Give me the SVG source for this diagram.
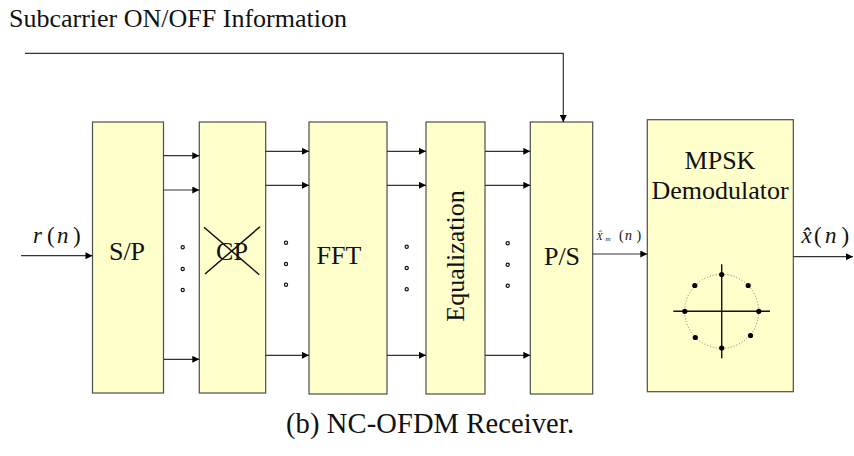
<svg xmlns="http://www.w3.org/2000/svg" width="854" height="456" viewBox="0 0 854 456">
<style>
.box{fill:#FFFFCC;stroke:#4d4d4d;stroke-width:1.2}
.lbl{font-family:'Liberation Serif','Times New Roman',Tinos,'DejaVu Serif',serif;font-size:26px;fill:#111}
.math{font-family:'Liberation Serif','Times New Roman',Tinos,'DejaVu Serif',serif;fill:#111}
.wire{fill:none;stroke:#333;stroke-width:1.2}
.dot{fill:#fff;stroke:#111;stroke-width:1.2}
.ax{stroke:#111;stroke-width:1.4}
.pt{fill:#000}
</style>
<defs>
<marker id="ah" viewBox="0 0 10 10" refX="10" refY="5" markerWidth="8" markerHeight="7" markerUnits="userSpaceOnUse" orient="auto">
<path d="M0,0 L10,5 L0,10 z" fill="#000"/>
</marker>
</defs>

<text class="lbl" x="9" y="27" font-size="26.6">Subcarrier ON/OFF Information</text>

<g id="sp">
<rect class="box" x="92.5" y="122" width="71" height="271"/>
<text class="lbl" x="127" y="260" text-anchor="middle">S/P</text>
</g>
<g id="cp">
<rect class="box" x="199.3" y="122" width="66.4" height="271"/>
<text class="lbl" x="232" y="260" text-anchor="middle">CP</text>
<line x1="205" y1="274" x2="260" y2="226.7" stroke="#111" stroke-width="1.5"/>
<line x1="204" y1="227.3" x2="259.3" y2="274.7" stroke="#111" stroke-width="1.5"/>
</g>
<g id="fft">
<rect class="box" x="309" y="122" width="78" height="272"/>
<text class="lbl" x="316.5" y="264">FFT</text>
</g>
<g id="eq">
<rect class="box" x="426" y="122" width="59" height="272"/>
<text class="lbl" x="0" y="0" text-anchor="middle" transform="translate(464,256) rotate(-90)">Equalization</text>
</g>
<g id="ps">
<rect class="box" x="530.3" y="122" width="62.4" height="272"/>
<text class="lbl" x="562" y="265" text-anchor="middle">P/S</text>
</g>
<g id="mpsk">
<rect class="box" x="647.3" y="119.7" width="146" height="272"/>
<text class="lbl" x="720" y="169" text-anchor="middle">MPSK</text>
<text class="lbl" x="720" y="199" text-anchor="middle">Demodulator</text>
<circle cx="721.7" cy="311.3" r="37" fill="none" stroke="#777" stroke-width="1" stroke-dasharray="1 2"/>
<line class="ax" x1="673.3" y1="311.3" x2="770" y2="311.3"/>
<line class="ax" x1="721.7" y1="264.3" x2="721.7" y2="358.3"/>
<circle class="pt" cx="721.7" cy="274.5" r="2.6"/>
<circle class="pt" cx="721.7" cy="348" r="2.6"/>
<circle class="pt" cx="684.8" cy="311.3" r="2.6"/>
<circle class="pt" cx="758.8" cy="311.3" r="2.6"/>
<circle class="pt" cx="694.8" cy="285.5" r="2.6"/>
<circle class="pt" cx="748.2" cy="285.5" r="2.6"/>
<circle class="pt" cx="695.3" cy="337.5" r="2.6"/>
<circle class="pt" cx="750.5" cy="335.5" r="2.6"/>
</g>

<g id="connectors">
<polyline class="wire" points="25,53.3 563.3,53.3 563.3,122" marker-end="url(#ah)"/>
<line class="wire" x1="21" y1="255.7" x2="92.5" y2="255.7" marker-end="url(#ah)"/>
<line class="wire" x1="163.5" y1="155.7" x2="199.3" y2="155.7" marker-end="url(#ah)"/>
<line class="wire" x1="163.5" y1="190" x2="199.3" y2="190" marker-end="url(#ah)"/>
<line class="wire" x1="163.5" y1="359.3" x2="199.3" y2="359.3" marker-end="url(#ah)"/>
<line class="wire" x1="265.7" y1="151.3" x2="309" y2="151.3" marker-end="url(#ah)"/>
<line class="wire" x1="265.7" y1="185.3" x2="309" y2="185.3" marker-end="url(#ah)"/>
<line class="wire" x1="265.7" y1="355.3" x2="309" y2="355.3" marker-end="url(#ah)"/>
<line class="wire" x1="387" y1="151.3" x2="426" y2="151.3" marker-end="url(#ah)"/>
<line class="wire" x1="387" y1="185.3" x2="426" y2="185.3" marker-end="url(#ah)"/>
<line class="wire" x1="387" y1="355.3" x2="426" y2="355.3" marker-end="url(#ah)"/>
<line class="wire" x1="485" y1="151.3" x2="530.3" y2="151.3" marker-end="url(#ah)"/>
<line class="wire" x1="485" y1="185.3" x2="530.3" y2="185.3" marker-end="url(#ah)"/>
<line class="wire" x1="485" y1="355.3" x2="530.3" y2="355.3" marker-end="url(#ah)"/>
<line class="wire" x1="592.7" y1="254" x2="647.3" y2="254" marker-end="url(#ah)"/>
<line class="wire" x1="793.3" y1="256.7" x2="853" y2="256.7" marker-end="url(#ah)"/>
</g>

<g id="dots">
<circle class="dot" cx="182.7" cy="247.3" r="1.6"/>
<circle class="dot" cx="182.7" cy="269" r="1.6"/>
<circle class="dot" cx="182.7" cy="290" r="1.6"/>
<circle class="dot" cx="286" cy="242.7" r="1.6"/>
<circle class="dot" cx="286" cy="264" r="1.6"/>
<circle class="dot" cx="286" cy="284.7" r="1.6"/>
<circle class="dot" cx="406.7" cy="246.7" r="1.6"/>
<circle class="dot" cx="406.7" cy="268" r="1.6"/>
<circle class="dot" cx="406.7" cy="289.3" r="1.6"/>
<circle class="dot" cx="507.7" cy="243.3" r="1.6"/>
<circle class="dot" cx="507.7" cy="264.7" r="1.6"/>
<circle class="dot" cx="507.7" cy="285.7" r="1.6"/>
</g>

<g id="labels">
<text class="math" font-size="23" y="243.3"><tspan x="33" font-style="italic">r</tspan><tspan x="47">(</tspan><tspan x="57" font-style="italic">n</tspan><tspan x="73">)</tspan></text>
<text class="math" font-size="23" y="243.3"><tspan x="801.5" font-style="italic">x̂</tspan><tspan x="814">(</tspan><tspan x="825" font-style="italic">n</tspan><tspan x="841.5">)</tspan></text>
<text class="math" font-size="14" y="239.5"><tspan x="596.5" font-size="10" font-style="italic">X̂</tspan><tspan x="605.5" y="241" font-size="7" font-style="italic">m</tspan><tspan x="619" y="239.5">(</tspan><tspan x="625" font-style="italic">n</tspan><tspan x="636.5">)</tspan></text>
</g>

<text class="math" font-size="28.5" x="286" y="433" textLength="288">(b) NC-OFDM Receiver.</text>
</svg>
